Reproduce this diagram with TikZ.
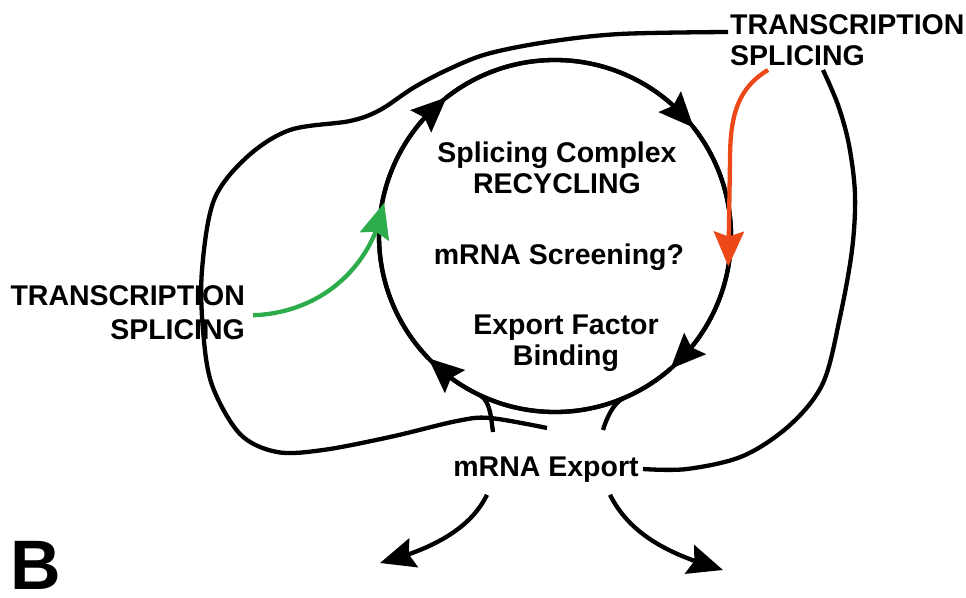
\documentclass[tikz,border=0pt]{standalone}
\usepackage{fontspec}
\setmainfont{Liberation Sans}
\usetikzlibrary{arrows.meta,bending,calc}

\definecolor{splgreen}{RGB}{44,172,74}
\definecolor{splred}{RGB}{236,72,24}

\begin{document}
\begin{tikzpicture}[x=1pt,y=-1pt,line width=4.3pt,
  lbl/.style={font=\bfseries\fontsize{28.5}{31}\selectfont,inner sep=0pt},
  bigtip/.tip={Stealth[length=35pt,width=30pt,inset=5pt]},
  flow/.style={-{bigtip}},
]
\useasboundingbox (0,0) rectangle (966,597);

% labels
\node[lbl,anchor=north west,align=left] (trR) at (728,12) {TRANSCRIPTION\\SPLICING};
\node[lbl,anchor=north east,align=right,font=\bfseries\fontsize{28.5}{34}\selectfont] (trL) at (247,283) {TRANSCRIPTION\\SPLICING};
\node[lbl,anchor=north,align=center] (sc) at (557,140) {Splicing Complex\\RECYCLING};
\node[lbl,anchor=north] (scr) at (559,242) {mRNA Screening?};
\node[lbl,anchor=north,align=center] (efb) at (566,313) {Export Factor\\Binding};
\node[lbl,anchor=north] (exp) at (546,455) {mRNA Export};
\node[font=\bfseries\fontsize{70}{70}\selectfont,inner sep=0pt,anchor=north west] (panel) at (8,539) {B};

% the recycling ring: a closed circle, with its clockwise flow marked by four arrowed arcs
\coordinate (ring) at (555,236);
\draw (ring) circle[radius=176];
\draw[flow] (ring) ++(49:176) arc[start angle=49,end angle=136,radius=176];
\draw[flow] (ring) ++(136:176) arc[start angle=136,end angle=232,radius=176];
\draw[flow] (ring) ++(232:176) arc[start angle=232,end angle=322,radius=176];
\draw[flow] (ring) ++(322:176) arc[start angle=322,end angle=409,radius=176];

% short stems from mRNA Export merging into the ring
\draw ($(exp.north)+(-53,-23)$) .. controls +(-2,-14) and +(10,7) .. ($(ring)+(115:176)$);
\draw ($(exp.north)+(57,-25)$) .. controls +(3,-10) and +(-11,5) .. ($(ring)+(67:176)$);

% export outcomes
\draw[flow] ($(exp.south)+(-59,10)$) .. controls +(-17,35) and +(50,-13) .. (380,563);
\draw[flow] ($(exp.south)+(64,10)$) .. controls +(20,40) and +(-53,-15) .. (723,570);

% long return loop from export back to transcription / splicing (left and top)
\coordinate (topend) at (728,32);
\draw plot[smooth,tension=0.55] coordinates {
  ($(exp.north)+(1,-27)$) (490,418) (457,421) (390,437) (323,450) (277,452)
  (240,434) (212,385) (203,330) (202,270) (214,200) (247,157) (290,130)
  (350,121) (380,110) (413,88) (447,70) (487,54) (547,42) (620,34) (topend)};

% return loop on the right side
\coordinate (rstart) at (643,469);
\coordinate (rend) at (823,70);
\draw plot[smooth,tension=0.55] coordinates {
  (rstart) (687,469) (743,456) (790,425) (823,383) (840,317) (852,250)
  (855,195) (849,145) (838,105) (rend)};

% coloured inputs
\draw[splgreen,flow] ([xshift=6pt,yshift=-3pt]trL.east) .. controls (320,313) and (372,268) .. ($(ring)+(191:174)$);
\coordinate (redstart) at (768,70);
\draw[splred,flow] (redstart) .. controls (738,88) and (730,115) .. (730,160) -- ($(ring)+(10:176)$);
\end{tikzpicture}
\end{document}
